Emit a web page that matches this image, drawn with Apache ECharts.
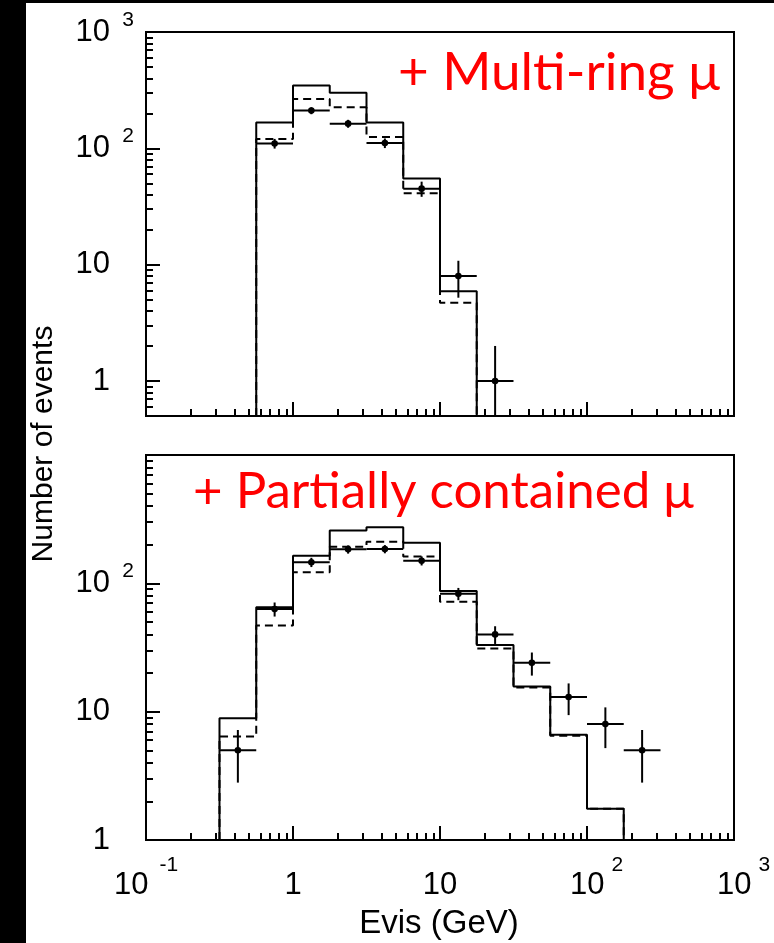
<!DOCTYPE html>
<html>
<head>
<meta charset="utf-8">
<script src="https://cdn.jsdelivr.net/npm/echarts@6/dist/echarts.min.js"></script>
<style>
  html, body { margin: 0; padding: 0; background: #fff; }
  #chart { width: 774px; height: 943px; }
</style>
</head>
<body>
<div id="chart"></div>
<script>
// Quarter-decade bin edges in visible energy (GeV)
const binEdges = [0.3162, 0.5623, 1, 1.778, 3.162, 5.623, 10, 17.78, 31.62, 56.23, 100, 177.8, 316.2];

// Upper panel: + Multi-ring mu (bins start at binEdges[1])
const multiRingMcSolid  = [167, 347, 301, 167, 55, 5.9];
const multiRingMcDashed = [120, 266, 225, 125, 41, 4.7];
const multiRingData     = [110, 211, 163, 111, 45, 8, 1];
const multiRingErr      = [10.5, 14.5, 12.8, 10.5, 6.7, 2.8, 1.0];

// Lower panel: + Partially contained mu (bins start at binEdges[0])
const pcMcSolid  = [8.9, 65, 164, 258, 274, 207, 87, 33, 15.7, 6.6, 1.75];
const pcMcDashed = [6.4, 47, 122, 193, 211, 162, 72, 31, 15.4, 6.5, 1.75];
const pcData     = [5, 63, 146, 184, 185, 150, 83, 40, 24, 13, 8, 5];
const pcErr      = [2.2, 7.9, 12.1, 13.6, 13.6, 12.2, 9.1, 6.3, 4.9, 3.6, 2.8, 2.2];

// Tick labels (value, mantissa text, exponent text)
const xTickValues = [0.1, 1, 10, 100, 1000];
const xTickBase   = ['10', '1', '10', '10', '10'];
const xTickExp    = ['-1', '', '', '2', '3'];
const yTopTickValues = [1, 10, 100, 1000];
const yTopTickBase   = ['1', '10', '10', '10'];
const yTopTickExp    = ['', '', '2', '3'];
const yBotTickValues = [1, 10, 100];
const yBotTickBase   = ['1', '10', '10'];
const yBotTickExp    = ['', '', '2'];

const TOP_Y_MIN = 0.5, TOP_Y_MAX = 1000;
const BOT_Y_MIN = 1, BOT_Y_MAX = 1000;
const X_MIN = 0.1, X_MAX = 1000;

const FONT = "'Liberation Sans', Arial, Helvetica, sans-serif";

// minor ticks at 2..9 x 10^k inside an extent
function minorTicks(lo, hi) {
  const out = [];
  for (let e = -2; e <= 3; e++) {
    for (let m = 2; m <= 9; m++) {
      const v = m * Math.pow(10, e);
      if (v > lo * 1.0001 && v < hi * 0.9999) out.push(v);
    }
  }
  return out;
}

function findTick(values, value) {
  return values.findIndex(v => Math.abs(Math.log10(v) - Math.log10(value)) < 1e-6);
}

function xLabel(value) {
  const i = findTick(xTickValues, value);
  if (i < 0) return '';
  const b = xTickBase[i], e = xTickExp[i];
  if (!e) return '{xb|' + b + '}';
  if (e === '-1') return '{xb|' + b + '}{xsn|' + e + '}';
  return '{xp| }{xb|' + b + '}{xs|' + e + '}';
}

function yLabelFor(values, bases, exps) {
  return function (value) {
    const i = findTick(values, value);
    if (i < 0) return '';
    return '{yb|' + bases[i] + '}{ys|' + (exps[i] || ' ') + '}';
  };
}

const xRich = {
  xb:  { fontFamily: FONT, fontSize: 31, color: '#000', lineHeight: 61 },
  xs:  { fontFamily: FONT, fontSize: 21, color: '#000', lineHeight: 20, verticalAlign: 'top', padding: [0, 0, 0, 7] },
  xsn: { fontFamily: FONT, fontSize: 21, color: '#000', lineHeight: 20, verticalAlign: 'top', padding: [0, 0, 0, 11] },
  xp:  { fontFamily: FONT, fontSize: 21, color: '#000', lineHeight: 20, width: 19 }
};
const yRich = {
  yb: { fontFamily: FONT, fontSize: 31, color: '#000', lineHeight: 45 },
  ys: { fontFamily: FONT, fontSize: 21, color: '#000', lineHeight: 20, verticalAlign: 'top', width: 13, padding: [0, 0, 0, 11] }
};

// step outline of a histogram, closed down to the axis floor
function histPath(edges, vals, floor) {
  const pts = [[edges[0], floor]];
  vals.forEach((v, i) => { pts.push([edges[i], v]); pts.push([edges[i + 1], v]); });
  pts.push([edges[vals.length], floor]);
  return pts;
}

function pointRows(edges, vals, errs) {
  return vals.map((v, i) => [edges[i], edges[i + 1], v, errs[i]]);
}

function makeErrorRenderer(floor) {
  return function (params, api) {
    const lo = api.value(0), hi = api.value(1), v = api.value(2), e = api.value(3);
    const xc = Math.sqrt(lo * hi);
    const pL = api.coord([lo, v]);
    const pR = api.coord([hi, v]);
    const pC = api.coord([xc, v]);
    const pT = api.coord([xc, v + e]);
    const pB = api.coord([xc, Math.max(v - e, floor)]);
    const st = { stroke: '#000', lineWidth: 2 };
    return {
      type: 'group',
      children: [
        { type: 'line', shape: { x1: pL[0], y1: pL[1], x2: pR[0], y2: pR[1] }, style: st },
        { type: 'line', shape: { x1: pT[0], y1: pT[1], x2: pB[0], y2: pB[1] }, style: st },
        { type: 'circle', shape: { cx: pC[0], cy: pC[1], r: 3.3 }, style: { fill: '#000' } }
      ]
    };
  };
}

function xAxes(gridIndex, withLabels) {
  const major = {
    type: 'log', logBase: 10, gridIndex, min: X_MIN, max: X_MAX, position: 'bottom',
    axisLine: { show: false },
    splitLine: { show: false },
    axisTick: { show: true, inside: true, length: 14, lineStyle: { color: '#000', width: 2 }, customValues: xTickValues },
    axisLabel: withLabels
      ? { show: true, margin: 15, formatter: xLabel, rich: xRich, customValues: xTickValues, hideOverlap: false }
      : { show: false }
  };
  const minor = {
    type: 'log', logBase: 10, gridIndex, min: X_MIN, max: X_MAX, position: 'bottom',
    axisLine: { show: false },
    splitLine: { show: false },
    axisTick: { show: true, inside: true, length: 7, lineStyle: { color: '#000', width: 2 }, customValues: minorTicks(X_MIN, X_MAX) },
    axisLabel: { show: false }
  };
  return [major, minor];
}

function yAxes(gridIndex, yMin, yMax, values, bases, exps) {
  const major = {
    type: 'log', logBase: 10, gridIndex, min: yMin, max: yMax, position: 'left',
    axisLine: { show: false },
    splitLine: { show: false },
    axisTick: { show: true, inside: true, length: 14, lineStyle: { color: '#000', width: 2 }, customValues: values },
    axisLabel: { show: true, margin: 12, formatter: yLabelFor(values, bases, exps), rich: yRich, customValues: values, hideOverlap: false }
  };
  const minor = {
    type: 'log', logBase: 10, gridIndex, min: yMin, max: yMax, position: 'left',
    axisLine: { show: false },
    splitLine: { show: false },
    axisTick: { show: true, inside: true, length: 7, lineStyle: { color: '#000', width: 2 }, customValues: minorTicks(yMin, yMax) },
    axisLabel: { show: false }
  };
  return [major, minor];
}

function histSeries(name, xi, yi, edges, vals, floor, dashed) {
  return {
    name, type: 'line', xAxisIndex: xi, yAxisIndex: yi,
    data: histPath(edges, vals, floor),
    showSymbol: false, symbol: 'none', clip: true, z: 3,
    lineStyle: { color: '#000', width: 2, type: dashed ? [8, 5] : 'solid' },
    emphasis: { disabled: true }
  };
}

function dataSeries(name, xi, yi, edges, vals, errs, floor) {
  return {
    name, type: 'custom', xAxisIndex: xi, yAxisIndex: yi,
    data: pointRows(edges, vals, errs),
    encode: { x: [0, 1], y: 2 },
    renderItem: makeErrorRenderer(floor), z: 5
  };
}

const topEdges = binEdges.slice(1);
const botEdges = binEdges;

const option = {
  animation: false,
  backgroundColor: '#fff',
  grid: [
    { left: 146, top: 32, width: 588, height: 384, show: true, borderColor: '#000', borderWidth: 2, backgroundColor: 'transparent' },
    { left: 146, top: 455, width: 588, height: 385, show: true, borderColor: '#000', borderWidth: 2, backgroundColor: 'transparent' }
  ],
  xAxis: [...xAxes(0, false), ...xAxes(1, true)],
  yAxis: [
    ...yAxes(0, TOP_Y_MIN, TOP_Y_MAX, yTopTickValues, yTopTickBase, yTopTickExp),
    ...yAxes(1, BOT_Y_MIN, BOT_Y_MAX, yBotTickValues, yBotTickBase, yBotTickExp)
  ],
  series: [
    histSeries('Multi-ring MC', 0, 0, topEdges, multiRingMcSolid, TOP_Y_MIN, false),
    histSeries('Multi-ring MC (dashed)', 0, 0, topEdges, multiRingMcDashed, TOP_Y_MIN, true),
    dataSeries('Multi-ring data', 0, 0, topEdges, multiRingData, multiRingErr, TOP_Y_MIN),
    histSeries('PC MC', 2, 2, botEdges, pcMcSolid, BOT_Y_MIN, false),
    histSeries('PC MC (dashed)', 2, 2, botEdges, pcMcDashed, BOT_Y_MIN, true),
    dataSeries('PC data', 2, 2, botEdges, pcData, pcErr, BOT_Y_MIN)
  ],
  graphic: [
    { type: 'rect', shape: { x: 0, y: 0, width: 26, height: 943 }, style: { fill: '#000' }, z: 100 },
    { type: 'rect', shape: { x: 0, y: 0, width: 774, height: 3 }, style: { fill: '#000' }, z: 100 },
    {
      type: 'text', x: 44, y: 444, rotation: Math.PI / 2,
      style: { text: 'Number of events', fontFamily: FONT, fontSize: 30, fill: '#000', align: 'center', verticalAlign: 'middle' }
    },
    {
      type: 'text', x: 439, y: 924,
      style: { text: 'Evis (GeV)', fontFamily: FONT, fontSize: 33, fill: '#000', align: 'center', verticalAlign: 'middle' }
    },
    {
      type: 'text', x: 398, y: 73,
      style: { text: '+ Multi-ring \u03bc', fontFamily: 'Lato, sans-serif', fontSize: 53, fill: '#ff0000', align: 'left', verticalAlign: 'middle' }
    },
    {
      type: 'text', x: 193, y: 492,
      style: { text: '+ Partially contained \u03bc', fontFamily: 'Lato, sans-serif', fontSize: 51, fill: '#ff0000', align: 'left', verticalAlign: 'middle' }
    }
  ]
};

const chart = echarts.init(document.getElementById('chart'), null, { renderer: 'canvas' });
chart.setOption(option);
</script>
</body>
</html>
